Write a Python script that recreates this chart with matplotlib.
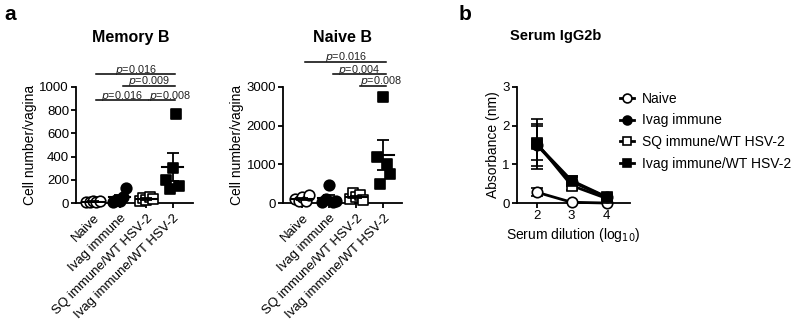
import numpy as np
import matplotlib
matplotlib.use("Agg")
import matplotlib.pyplot as plt

plt.rcParams['font.family'] = ['Liberation Sans', 'DejaVu Sans']

groups = ["Naive", "Ivag immune", "SQ immune/WT HSV-2", "Ivag immune/WT HSV-2"]

mem_naive = [12, 5, 18, 8, 20]
mem_ivag = [10, 30, 20, 50, 130]
mem_sq = [20, 40, 30, 50, 35]
mem_ivagwt = [200, 120, 300, 770, 150]

nai_naive = [100, 60, 150, 50, 200]
nai_ivag = [30, 100, 470, 20, 50]
nai_sq = [100, 250, 150, 200, 80]
nai_ivagwt = [1200, 500, 2750, 1000, 750]

mem_pvals = [("0.016", 0, 3), ("0.009", 1, 3), ("0.016", 0, 2), ("0.008", 2, 3)]
nai_pvals = [("0.016", 0, 3), ("0.004", 1, 3), ("0.008", 2, 3)]

dilution = [2, 3, 4]
abs_naive = [0.28, 0.02, 0.0]
abs_naive_err = [0.1, 0.02, 0.01]
abs_ivag = [1.50, 0.55, 0.15]
abs_ivag_err = [0.55, 0.12, 0.04]
abs_sq = [1.55, 0.45, 0.12]
abs_sq_err = [0.45, 0.12, 0.04]
abs_ivagwt = [1.52, 0.58, 0.16]
abs_ivagwt_err = [0.65, 0.12, 0.04]

styles = [dict(marker='o', fc='white'), dict(marker='o', fc='black'),
          dict(marker='s', fc='white'), dict(marker='s', fc='black')]

fig = plt.figure(figsize=(8, 3.28), dpi=100)


def style_ax(ax):
    for s in ['top', 'right']:
        ax.spines[s].set_visible(False)
    for s in ['left', 'bottom']:
        ax.spines[s].set_linewidth(1.3)
    ax.tick_params(width=1.3, length=3.5, labelsize=9.5, pad=1.5)


def dot_panel(rect, data, title, title_x, ylim, yticks, pvals, rows, xlim):
    ax = fig.add_axes(rect)
    for i, vals in enumerate(data):
        n = len(vals)
        offs = np.linspace(-0.25, 0.25, n)
        xs = i + offs
        ax.scatter(xs, vals, s=58, marker=styles[i]['marker'],
                   facecolor=styles[i]['fc'], edgecolor='black',
                   linewidth=1.2, zorder=3, clip_on=False)
        m = np.mean(vals)
        se = np.std(vals, ddof=1) / np.sqrt(n)
        ax.plot([i - 0.4, i + 0.4], [m, m], color='black', lw=1.5, zorder=4)
        ax.errorbar([i], [m], yerr=[se], color='black', capsize=4,
                    elinewidth=1.3, capthick=1.3, zorder=4)
    ax.set_xlim(*xlim)
    ax.set_ylim(*ylim)
    ax.set_yticks(yticks)
    ax.set_xticks(range(len(groups)))
    ax.set_xticklabels(groups, rotation=45, ha='right', rotation_mode='anchor',
                       fontsize=11)
    style_ax(ax)
    ax.tick_params(axis='x', pad=3)
    ax.set_ylabel("Cell number/vagina", fontsize=10, labelpad=2)
    fig.text(title_x, 0.887, title, fontsize=11.5, fontweight='bold',
             ha='center', va='center')
    for (p, a, b), r in zip(pvals, rows):
        a2 = a + 0.12
        b2 = b + 0.08
        ax.plot([a2, b2], [r, r], transform=ax.get_xaxis_transform(),
                color='black', lw=1.1, clip_on=False)
        tx = (a2 + b2) / 2 if b - a > 1 else b - 0.1
        ax.text(tx, r + 0.012, r"$\it{p}$=" + p,
                transform=ax.get_xaxis_transform(), ha='center',
                va='baseline', fontsize=7.8, color='#222222')
    return ax


dot_panel([0.095, 0.381, 0.146, 0.354],
          [mem_naive, mem_ivag, mem_sq, mem_ivagwt], "Memory B", 0.164,
          (0, 1000), [0, 200, 400, 600, 800, 1000], mem_pvals,
          [1.112, 1.009, 0.888, 0.888], (-0.64, 3.75))

dot_panel([0.354, 0.381, 0.149, 0.354],
          [nai_naive, nai_ivag, nai_sq, nai_ivagwt], "Naive B", 0.428,
          (0, 3000), [0, 1000, 2000, 3000], nai_pvals,
          [1.216, 1.112, 1.009], (-0.7, 3.7))

axb = fig.add_axes([0.646, 0.381, 0.141, 0.354])
series = [(abs_naive, abs_naive_err), (abs_ivag, abs_ivag_err),
          (abs_sq, abs_sq_err), (abs_ivagwt, abs_ivagwt_err)]
for i, (vals, err) in enumerate(series):
    axb.errorbar(dilution, vals, yerr=err, color='black', lw=2,
                 marker=styles[i]['marker'], mfc=styles[i]['fc'], mec='black',
                 mew=1.2, ms=7.5, capsize=4, elinewidth=1.3, capthick=1.3,
                 label=groups[i], clip_on=False, zorder=3 + i)
axb.set_xlim(1.43, 4.66)
axb.set_ylim(0, 3)
axb.set_xticks(dilution)
axb.set_yticks([0, 1, 2, 3])
style_ax(axb)
axb.set_ylabel("Absorbance (nm)", fontsize=10, labelpad=2)
axb.set_xlabel("Serum dilution (log$_{10}$)", fontsize=10, labelpad=3)
fig.text(0.695, 0.89, "Serum IgG2b", fontsize=10.5, fontweight='bold',
         ha='center', va='center')
handles, labels = axb.get_legend_handles_labels()
handles = [h[0] for h in handles]
fig.legend(handles, labels, loc='upper left', bbox_to_anchor=(0.775, 0.72),
           frameon=False, fontsize=10, handlelength=1.0, handletextpad=0.55,
           labelspacing=0.55, borderaxespad=0, borderpad=0, markerscale=0.85)

fig.text(0.006, 0.955, "a", fontsize=15, fontweight='bold', va='center')
fig.text(0.573, 0.955, "b", fontsize=15, fontweight='bold', va='center')

fig.savefig("out.png", dpi=100)
